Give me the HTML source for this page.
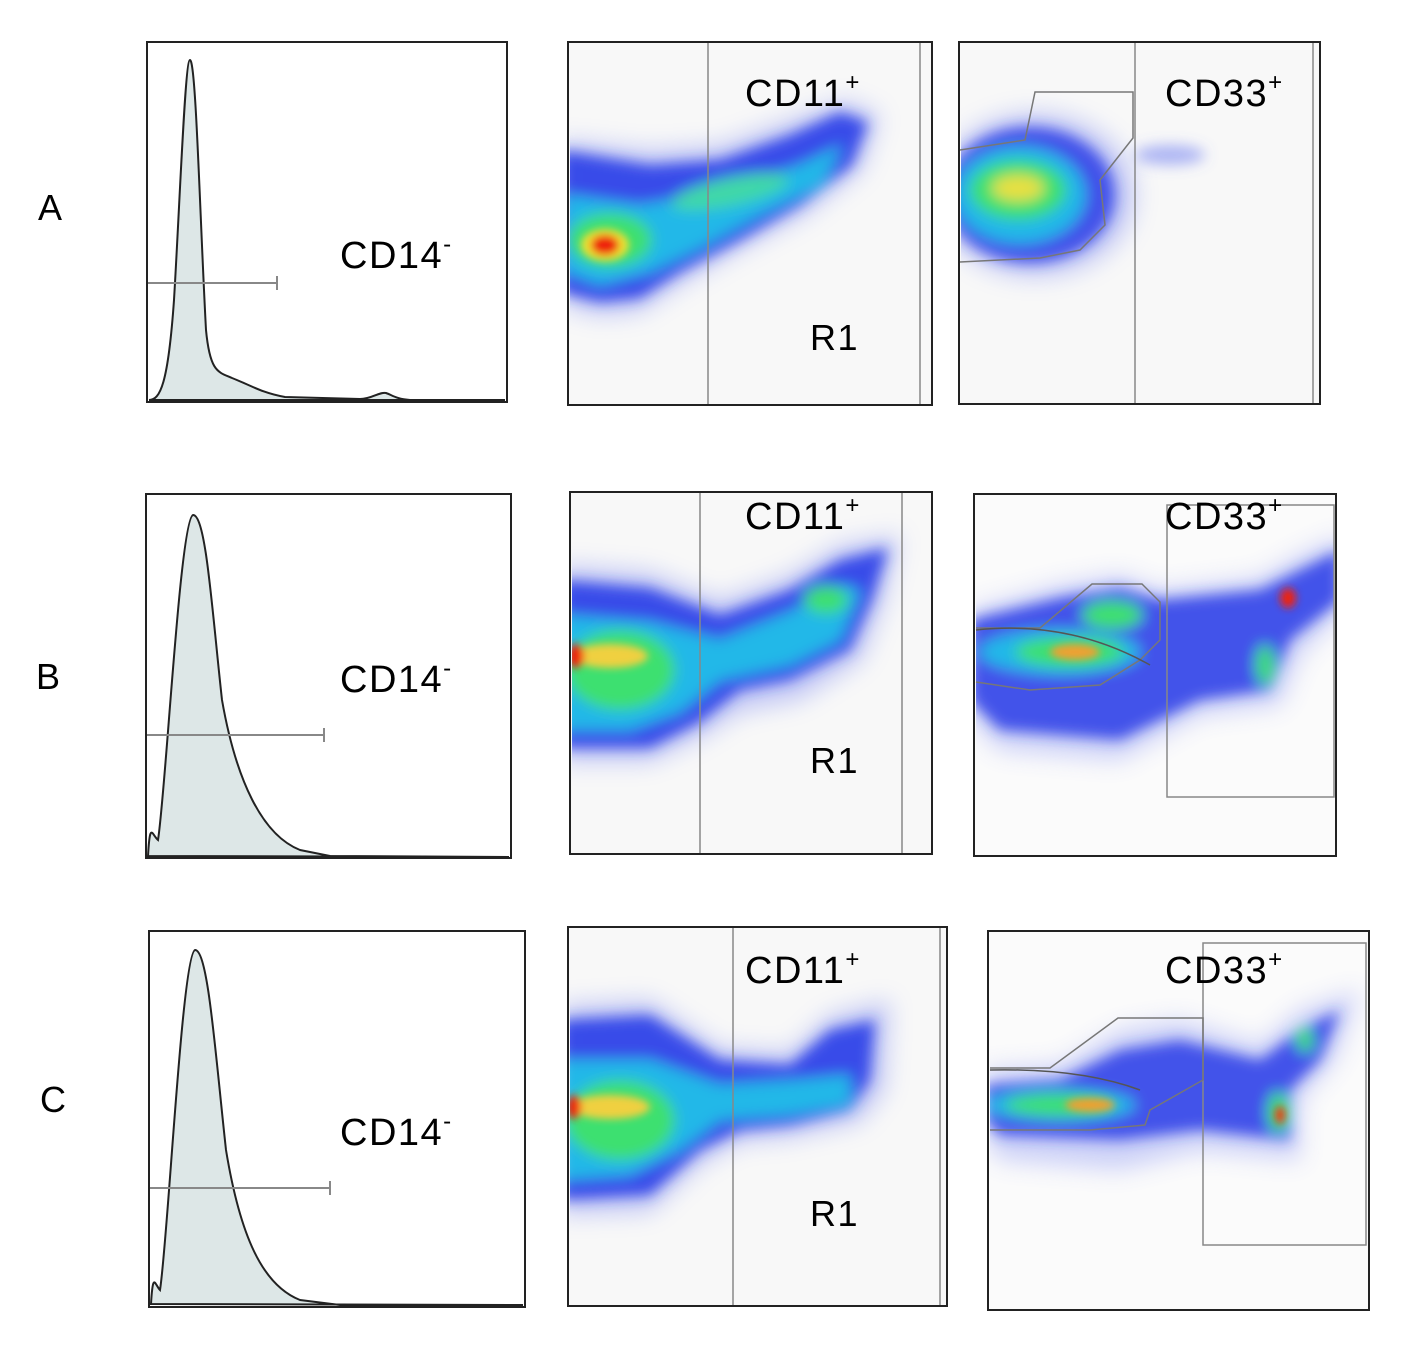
<!DOCTYPE html>
<html><head><meta charset="utf-8"><style>
html,body{margin:0;padding:0;background:#fff;}
svg{display:block;}
text{font-family:"Liberation Sans","DejaVu Sans",sans-serif;fill:#000;letter-spacing:1.5px;}
</style></head><body>
<svg width="1418" height="1354" viewBox="0 0 1418 1354" xmlns="http://www.w3.org/2000/svg">
<defs>
<filter id="b" x="-30%" y="-30%" width="160%" height="160%"><feGaussianBlur stdDeviation="7"/></filter>
<filter id="h" x="-30%" y="-30%" width="160%" height="160%"><feGaussianBlur stdDeviation="12"/></filter>
<filter id="s" x="-30%" y="-30%" width="160%" height="160%"><feGaussianBlur stdDeviation="4"/></filter>
<clipPath id="cA1"><rect x="570" y="44" width="360" height="359"/></clipPath>
<clipPath id="cA2"><rect x="961" y="44" width="357" height="358"/></clipPath>
<clipPath id="cB1"><rect x="572" y="494" width="358" height="358"/></clipPath>
<clipPath id="cB2"><rect x="976" y="496" width="358" height="358"/></clipPath>
<clipPath id="cC1"><rect x="570" y="929" width="375" height="375"/></clipPath>
<clipPath id="cC2"><rect x="990" y="933" width="377" height="375"/></clipPath>
</defs>

<text x="38" y="220" font-size="36">A</text>
<text x="36" y="689" font-size="36">B</text>
<text x="40" y="1112" font-size="36">C</text>

<!-- Histograms -->
<rect x="147" y="42" width="360" height="360" fill="#fff" stroke="#222" stroke-width="2"/>
<path d="M149,400 C160,400 168,385 174,300 C180,200 185,60 190,60 C196,60 200,220 206,330 C210,372 218,372 232,378 C250,385 262,393 285,397 L360,399 C372,399 378,392 386,393 C392,395 396,399 410,400 L505,400 Z" fill="#dde7e7" stroke="#222" stroke-width="2"/>
<line x1="148" y1="283" x2="277" y2="283" stroke="#888" stroke-width="2"/>
<line x1="277" y1="276" x2="277" y2="290" stroke="#888" stroke-width="2"/>
<text x="340" y="268" font-size="38">CD14<tspan dy="-16" font-size="24">-</tspan></text>

<rect x="146" y="494" width="365" height="364" fill="#fff" stroke="#222" stroke-width="2"/>
<path d="M148,856 C150,820 152,835 158,840 C166,790 180,520 193,515 C206,515 212,610 222,700 C236,780 262,835 300,850 L330,856 L509,857 Z" fill="#dde7e7" stroke="#222" stroke-width="2"/>
<line x1="147" y1="735" x2="324" y2="735" stroke="#888" stroke-width="2"/>
<line x1="324" y1="728" x2="324" y2="742" stroke="#888" stroke-width="2"/>
<text x="340" y="692" font-size="38">CD14<tspan dy="-16" font-size="24">-</tspan></text>

<rect x="149" y="931" width="376" height="376" fill="#fff" stroke="#222" stroke-width="2"/>
<path d="M151,1304 C153,1270 155,1285 160,1290 C168,1240 182,955 195,950 C208,950 215,1050 226,1150 C240,1235 262,1285 300,1300 L340,1305 L523,1305 Z" fill="#dde7e7" stroke="#222" stroke-width="2"/>
<line x1="150" y1="1188" x2="330" y2="1188" stroke="#888" stroke-width="2"/>
<line x1="330" y1="1181" x2="330" y2="1195" stroke="#888" stroke-width="2"/>
<text x="340" y="1145" font-size="38">CD14<tspan dy="-16" font-size="24">-</tspan></text>

<!-- Row A scatter 1 -->
<rect x="568" y="42" width="364" height="363" fill="#f8f8f8" stroke="#222" stroke-width="2"/>
<g clip-path="url(#cA1)">
<polygon points="560,140 650,150 720,145 790,120 845,100 880,115 862,170 805,215 740,250 680,285 640,312 600,316 560,305" fill="#6070f0" opacity="0.35" filter="url(#h)"/>
<g filter="url(#b)">
<polygon points="560,150 650,165 720,160 790,135 840,112 868,122 852,165 800,205 740,240 680,272 640,298 600,302 560,292" fill="#2a3de8" opacity="0.9"/>
<polygon points="565,195 640,205 720,192 800,165 842,145 822,185 760,215 700,248 650,272 600,285 565,272" fill="#22b8e8"/>
<ellipse cx="610" cy="240" rx="42" ry="27" fill="#3ee070"/>
<ellipse cx="730" cy="192" rx="60" ry="14" fill="#40d8a8" transform="rotate(-12 730 192)"/>
</g>
<g filter="url(#s)">
<ellipse cx="605" cy="245" rx="24" ry="16" fill="#f0e030"/>
<ellipse cx="605" cy="245" rx="14" ry="10" fill="#ee2010"/>
</g>
</g>
<line x1="708" y1="43" x2="708" y2="404" stroke="#888" stroke-width="1.5"/>
<line x1="920" y1="43" x2="920" y2="404" stroke="#888" stroke-width="1.5"/>
<text x="745" y="106" font-size="38">CD11<tspan dy="-16" font-size="24">+</tspan></text>
<text x="810" y="350" font-size="36">R1</text>

<!-- Row A scatter 2 -->
<rect x="959" y="42" width="361" height="362" fill="#f8f8f8" stroke="#222" stroke-width="2"/>
<g clip-path="url(#cA2)">
<ellipse cx="1035" cy="195" rx="100" ry="82" fill="#6070f0" opacity="0.35" filter="url(#h)"/>
<g filter="url(#b)">
<ellipse cx="1030" cy="195" rx="85" ry="68" fill="#2a3de8" opacity="0.85"/>
<ellipse cx="1020" cy="195" rx="65" ry="48" fill="#22b8e8"/>
<ellipse cx="1018" cy="190" rx="48" ry="30" fill="#3ee070"/>
<ellipse cx="1018" cy="188" rx="26" ry="13" fill="#e8e040"/>
<ellipse cx="1170" cy="155" rx="35" ry="10" fill="#6070f0" opacity="0.5"/>
</g>
</g>
<polyline points="960,150 1025,140 1035,92 1133,92 1133,138 1100,180 1105,225 1080,250 1040,258 960,262" fill="none" stroke="#777" stroke-width="1.5"/>
<line x1="1135" y1="43" x2="1135" y2="403" stroke="#888" stroke-width="1.5"/>
<line x1="1313" y1="43" x2="1313" y2="403" stroke="#888" stroke-width="1.5"/>
<text x="1165" y="106" font-size="38">CD33<tspan dy="-16" font-size="24">+</tspan></text>

<!-- Row B scatter 1 -->
<rect x="570" y="492" width="362" height="362" fill="#f8f8f8" stroke="#222" stroke-width="2"/>
<g clip-path="url(#cB1)">
<polygon points="560,565 650,572 720,600 790,575 840,545 900,535 885,600 862,660 800,700 740,712 700,738 650,762 560,762" fill="#6070f0" opacity="0.35" filter="url(#h)"/>
<g filter="url(#b)">
<polygon points="560,580 650,588 720,615 790,590 840,560 888,548 872,600 850,650 790,680 740,690 700,722 650,748 560,748" fill="#2a3de8" opacity="0.9"/>
<polygon points="560,615 650,622 720,640 790,612 840,585 860,590 840,640 790,665 720,680 680,712 630,730 560,730" fill="#22b8e8"/>
<ellipse cx="620" cy="670" rx="55" ry="40" fill="#3ee070"/>
<ellipse cx="826" cy="600" rx="22" ry="14" fill="#3ee070"/>
</g>
<g filter="url(#s)">
<ellipse cx="610" cy="656" rx="38" ry="12" fill="#f0d040"/>
<ellipse cx="576" cy="656" rx="8" ry="12" fill="#ee2010"/>
</g>
</g>
<line x1="700" y1="493" x2="700" y2="853" stroke="#888" stroke-width="1.5"/>
<line x1="902" y1="493" x2="902" y2="853" stroke="#888" stroke-width="1.5"/>
<text x="745" y="529" font-size="38">CD11<tspan dy="-16" font-size="24">+</tspan></text>
<text x="810" y="773" font-size="36">R1</text>

<!-- Row B scatter 2 -->
<rect x="974" y="494" width="362" height="362" fill="#fbfbfb" stroke="#222" stroke-width="2"/>
<g clip-path="url(#cB2)">
<polygon points="970,610 1060,585 1120,575 1160,590 1260,578 1300,555 1345,535 1345,610 1300,655 1280,705 1200,715 1120,760 1000,750 970,720" fill="#6070f0" opacity="0.3" filter="url(#h)"/>
<g filter="url(#b)">
<polygon points="970,620 1060,598 1120,588 1160,600 1260,590 1300,570 1340,550 1340,600 1290,640 1270,690 1200,700 1120,740 1000,730 970,700" fill="#2a3de8" opacity="0.85"/>
<ellipse cx="1060" cy="652" rx="80" ry="22" fill="#22b8e8"/>
<ellipse cx="1070" cy="652" rx="55" ry="15" fill="#3ee070"/>
<ellipse cx="1112" cy="615" rx="30" ry="14" fill="#3ee070"/>
<ellipse cx="1265" cy="665" rx="9" ry="20" fill="#3ee070"/>
</g>
<g filter="url(#s)">
<ellipse cx="1075" cy="652" rx="25" ry="8" fill="#f0a030"/>
<ellipse cx="1288" cy="598" rx="8" ry="10" fill="#ee2010"/>
</g>
</g>
<rect x="1167" y="505" width="167" height="292" fill="none" stroke="#888" stroke-width="1.5"/>
<polyline points="976,628 1040,628 1092,584 1142,584 1160,602 1160,640 1140,660 1100,685 1030,690 976,682" fill="none" stroke="#777" stroke-width="1.5"/>
<path d="M976,630 Q1070,620 1150,665" fill="none" stroke="#555" stroke-width="1.5"/>
<text x="1165" y="529" font-size="38">CD33<tspan dy="-16" font-size="24">+</tspan></text>

<!-- Row C scatter 1 -->
<rect x="568" y="927" width="379" height="379" fill="#f8f8f8" stroke="#222" stroke-width="2"/>
<g clip-path="url(#cC1)">
<polygon points="560,1005 650,1000 720,1048 790,1052 830,1015 890,1000 885,1090 860,1122 790,1138 740,1142 700,1165 650,1212 560,1215" fill="#6070f0" opacity="0.35" filter="url(#h)"/>
<g filter="url(#b)">
<polygon points="560,1020 650,1015 720,1060 790,1065 830,1030 875,1020 870,1080 850,1110 790,1125 740,1130 700,1150 650,1195 560,1200" fill="#2a3de8" opacity="0.9"/>
<polygon points="560,1060 650,1060 720,1085 800,1080 850,1075 850,1105 790,1115 720,1120 680,1150 630,1175 560,1180" fill="#22b8e8"/>
<ellipse cx="620" cy="1120" rx="55" ry="40" fill="#3ee070"/>
</g>
<g filter="url(#s)">
<ellipse cx="610" cy="1107" rx="40" ry="12" fill="#f0d040"/>
<ellipse cx="574" cy="1107" rx="7" ry="12" fill="#ee2010"/>
</g>
</g>
<line x1="733" y1="928" x2="733" y2="1305" stroke="#888" stroke-width="1.5"/>
<line x1="940" y1="928" x2="940" y2="1305" stroke="#888" stroke-width="1.5"/>
<text x="745" y="983" font-size="38">CD11<tspan dy="-16" font-size="24">+</tspan></text>
<text x="810" y="1226" font-size="36">R1</text>

<!-- Row C scatter 2 -->
<rect x="988" y="931" width="381" height="379" fill="#fbfbfb" stroke="#222" stroke-width="2"/>
<g clip-path="url(#cC2)">
<polygon points="985,1070 1060,1065 1120,1030 1180,1020 1260,1045 1300,1010 1360,990 1335,1060 1300,1100 1300,1160 1200,1150 1120,1170 1000,1160 985,1140" fill="#6070f0" opacity="0.3" filter="url(#h)"/>
<g filter="url(#b)">
<polygon points="985,1085 1060,1080 1120,1050 1180,1040 1260,1060 1300,1030 1340,1010 1320,1060 1290,1090 1290,1140 1200,1130 1120,1140 1000,1135 985,1120" fill="#2a3de8" opacity="0.85"/>
<ellipse cx="1060" cy="1105" rx="75" ry="15" fill="#22b8e8"/>
<ellipse cx="1060" cy="1105" rx="55" ry="11" fill="#3ee070"/>
<ellipse cx="1278" cy="1112" rx="10" ry="20" fill="#3ee070"/>
<ellipse cx="1305" cy="1040" rx="8" ry="12" fill="#3ee070"/>
</g>
<g filter="url(#s)">
<ellipse cx="1090" cy="1105" rx="25" ry="7" fill="#f0a030"/>
<ellipse cx="1280" cy="1115" rx="5" ry="9" fill="#ee4010"/>
</g>
</g>
<rect x="1203" y="943" width="163" height="302" fill="none" stroke="#888" stroke-width="1.5"/>
<polyline points="990,1068 1050,1068 1118,1018 1203,1018 1203,1080 1150,1110 1145,1125 1090,1130 990,1130" fill="none" stroke="#777" stroke-width="1.5"/>
<path d="M990,1070 Q1080,1068 1140,1090" fill="none" stroke="#555" stroke-width="1.5"/>
<text x="1165" y="983" font-size="38">CD33<tspan dy="-16" font-size="24">+</tspan></text>
</svg>
</body></html>
